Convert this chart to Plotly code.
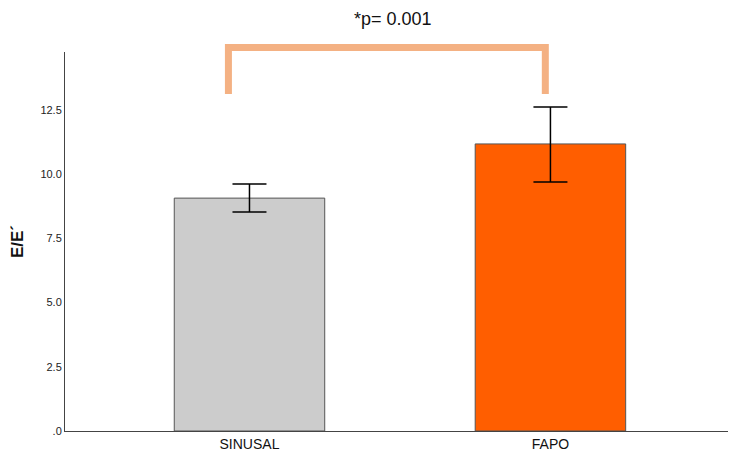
import plotly.graph_objects as go

# Mean E/E' by rhythm group with error bars
groups = ["SINUSAL", "FAPO"]
means = [9.07, 11.18]
err_up = [0.55, 1.44]
err_down = [0.54, 1.48]
bar_colors = ["#CCCCCC", "#FF5E00"]

tick_vals = [0, 2.5, 5.0, 7.5, 10.0, 12.5]
tick_text = [".0", "2.5", "5.0", "7.5", "10.0", "12.5"]

p_label = "*p= 0.001"

fig = go.Figure()
fig.add_trace(go.Bar(
    x=[0, 1],
    y=means,
    width=0.5,
    marker=dict(color=bar_colors, line=dict(color="#555555", width=1)),
    error_y=dict(type="data", symmetric=False, array=err_up, arrayminus=err_down,
                 color="#000000", thickness=1.5, width=17),
    showlegend=False,
))

# Significance bracket between the two groups
fig.add_shape(
    type="path",
    xref="x", yref="paper",
    path="M -0.07,0.889 L -0.07,1.012 L 0.983,1.012 L 0.983,0.889",
    line=dict(color="#F4B183", width=7),
    layer="above",
)
fig.add_annotation(
    x=0.476, xref="x", y=1.087, yref="paper", yanchor="middle",
    text=p_label, showarrow=False,
    font=dict(family="Liberation Sans, Arial", size=18, color="#111111"),
)

fig.update_layout(
    width=730, height=454,
    margin=dict(l=65, r=2, t=52, b=23),
    paper_bgcolor="white", plot_bgcolor="white",
    font=dict(family="Liberation Sans, Arial", color="#222222"),
    bargap=0.5,
)
fig.update_xaxes(
    range=[-0.613, 1.59],
    tickvals=[0, 1], ticktext=groups,
    showline=True, linecolor="#444444", linewidth=1,
    showgrid=False, zeroline=False, ticks="",
    tickfont=dict(size=14, color="#111111"),
)
fig.update_yaxes(
    range=[0, 14.76],
    tickvals=tick_vals, ticktext=tick_text,
    showline=True, linecolor="#444444", linewidth=1,
    showgrid=False, zeroline=False, ticks="",
    tickfont=dict(size=11, color="#222222"),
    title=dict(text="<b>E/E´</b>", font=dict(size=17, color="#111111"), standoff=12),
)

fig.write_html("out.html")
